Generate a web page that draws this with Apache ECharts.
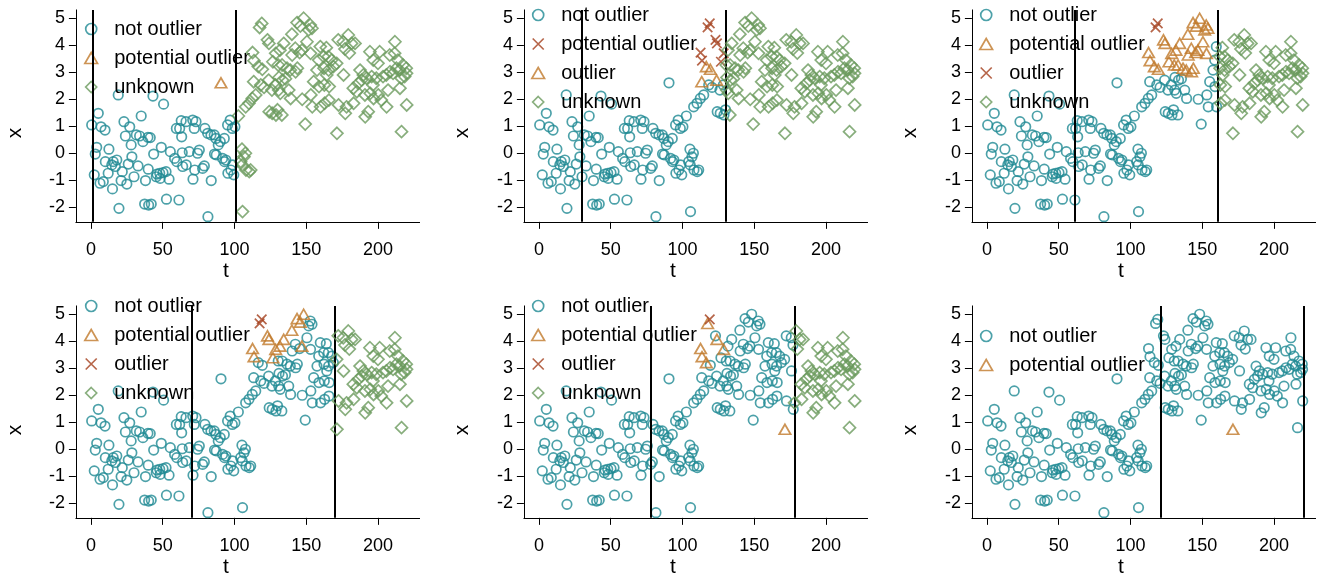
<!DOCTYPE html>
<html>
<head>
<meta charset="utf-8">
<script src="https://cdn.jsdelivr.net/npm/echarts@6/dist/echarts.min.js"></script>
<style>html,body{margin:0;padding:0;background:#fff}#c{width:1320px;height:574px}</style>
</head>
<body>
<div id="c"></div>
<script>
// ---- data ----
const tVals = [0.5,2.3,3.0,4.0,5.1,6.3,7.0,8.6,9.8,10.0,12.0,12.5,14.5,15.0,15.5,17.0,18.0,19.0,19.5,21.0,21.8,23.0,24.0,25.0,26.0,27.0,28.0,28.5,30.0,31.6,32.8,33.9,35.0,36.2,37.4,38.0,39.7,39.9,40.2,41.3,42.0,43.2,43.7,45.5,46.0,47.9,48.2,49.0,50.2,50.6,52.3,52.6,54.4,55.3,58.3,59.5,59.8,61.3,61.8,62.9,63.2,63.6,63.9,66.2,66.4,68.5,70.9,71.1,72.0,72.3,73.2,74.3,75.5,77.8,79.0,79.4,81.3,81.5,83.6,83.8,85.9,86.1,87.1,87.3,88.7,90.1,90.6,91.7,92.9,93.1,94.0,95.2,95.4,97.0,97.5,98.5,98.7,99.5,100.3,102.7,104.3,105.2,105.4,105.6,106.6,107.6,107.8,108.0,110.1,110.3,111.3,112.4,112.6,113.4,113.6,114.8,116.6,117.5,118.3,119.0,119.4,120.6,123.0,123.8,124.0,124.2,126.1,126.3,126.8,128.5,128.7,128.9,130.0,130.5,130.8,131.0,131.7,131.9,133.0,133.2,133.5,134.3,135.5,136.6,137.8,138.9,139.1,140.0,140.2,142.4,142.6,143.6,143.8,145.4,145.9,147.0,147.2,148.2,149.3,150.5,151.7,152.8,153.0,153.2,154.0,154.2,155.2,157.5,158.7,158.9,159.8,160.0,162.2,162.4,162.6,162.8,164.0,164.3,165.4,165.6,165.8,166.0,167.7,168.9,171.2,171.4,172.3,172.5,175.8,176.0,177.0,177.2,178.1,179.3,180.0,181.6,182.8,183.0,184.0,185.2,186.3,187.5,188.6,189.8,190.9,191.1,192.1,193.2,194.4,194.6,195.6,196.5,196.7,196.9,198.8,200.0,200.2,201.2,202.3,203.5,205.8,206.0,207.0,208.2,208.4,210.5,211.6,211.8,212.8,213.9,215.1,215.3,216.2,216.4,217.4,218.6,219.7,219.9,220.0];
const xVals = [1.04,-0.81,-0.04,0.21,1.47,-1.12,0.97,-1.06,0.85,-0.32,-0.75,0.14,-0.44,-1.33,-0.32,-0.5,-0.26,2.15,-2.05,-1.02,-0.69,1.16,0.63,-1.15,-0.41,0.97,0.3,-0.14,-0.88,0.67,-0.48,0.63,1.37,0.42,-1.89,-1.02,0.58,-0.6,-1.93,0.57,-1.89,2.11,-0.04,-0.88,-0.78,-0.75,-0.94,0.21,-0.73,1.81,-0.69,-1.71,-0.97,0.05,-0.2,0.91,-0.32,-1.74,0.91,1.2,0.6,0.01,-0.5,1.16,-0.44,0.05,1.22,-0.97,0.91,-0.63,1.16,-0.01,0.11,-0.57,-0.48,0.91,0.73,-2.36,0.67,-1.02,0.67,-0.04,0.54,-0.07,0.3,0.42,2.6,-0.2,0.54,-0.32,-0.26,1.04,-0.75,1.22,-0.63,0.91,-0.44,-0.81,0.97,1.37,-0.32,0.14,-0.44,-2.17,-0.14,-0.01,1.71,-0.63,1.84,-0.69,-0.63,2.02,3.72,2.64,3.42,2.15,3.2,4.65,2.52,4.8,3.1,2.43,4.19,2.7,4.06,1.53,2.33,1.47,3.38,2.52,3.69,1.41,1.6,3.26,2.33,2.8,3.81,2.21,1.41,3.26,2.7,4.06,2.75,3.14,2.33,3.07,2.02,4.4,3.63,3.88,3.01,4.83,3.14,3.72,4.7,3.81,1.99,4.99,1.07,4.12,4.56,4.74,3.69,2.15,4.62,1.71,2.64,3.07,3.44,2.46,3.94,1.71,3.57,3.14,2.52,1.84,3.9,2.89,3.57,3.07,1.96,2.46,3.44,3.2,3.32,0.73,4.19,1.78,4.12,2.89,3.85,1.47,1.71,4.37,3.7,4.06,2.4,1.84,4.06,2.27,2.58,3.07,2.7,2.89,2.15,1.34,2.77,1.53,3.75,2.21,2.83,2.52,3.44,2.02,2.77,3.32,2.15,3.75,1.96,2.83,2.89,1.71,2.33,3.63,3.01,2.95,3.69,4.12,3.14,3.44,3.07,2.4,2.77,0.79,3.26,2.83,3.14,2.95,1.78];

const windowStart = [1, 30, 61, 70, 78, 121];
const windowEnd   = [101, 130, 161, 170, 178, 221];
const potentialT = [
  [90.6],
  [112.6,113.6,117.5,119.0,123.0,124.0,126.8,128.7],
  [112.6,113.6,116.6,119.4,123.0,124.0,126.8,128.7,130.5,131.7,133.2,134.3,136.6,138.9,140.0,140.2,142.4,142.6,143.6,143.8,145.4,145.9,147.0,148.2,150.5,151.7,152.8,153.0,154.0],
  [112.6,113.6,123.0,124.0,126.8,128.7,131.7,134.3,140.0,143.6,145.9,147.0,148.2],
  [112.6,113.6,116.6,117.5,124.0,128.7,171.4],
  [171.4]
];
const outlierT = [
  [],
  [113.4,116.6,119.4,123.8],
  [117.5,119.0],
  [117.5,119.0],
  [119.0],
  []
];
const legendLabels = [
  ['not outlier','potential outlier','unknown'],
  ['not outlier','potential outlier','outlier','unknown'],
  ['not outlier','potential outlier','outlier','unknown'],
  ['not outlier','potential outlier','outlier','unknown'],
  ['not outlier','potential outlier','outlier','unknown'],
  ['not outlier','potential outlier']
];
const xTicks = [0, 50, 100, 150, 200];
const yTicks = [-2, -1, 0, 1, 2, 3, 4, 5];

// ---- styles / layout ----
const FONT = 'Liberation Sans, Arial, Helvetica, sans-serif';
const STY = {
  circle:  {symbol: 'circle', size: 9.5, color: '#1f8994'},
  tri:     {symbol: 'path://M5,0L10,8.66L0,8.66Z', size: [11.5, 10], color: '#c0792a'},
  cross:   {symbol: 'path://M0,0L10,10M10,0L0,10', size: 9.5, color: '#a43f1c'},
  diamond: {symbol: 'path://M5,0L10,5L5,10L0,5Z', size: 12, color: '#6a9a5c'}
};
function styleFor(p, label) {
  if (label === 'not outlier') return STY.circle;
  if (label === 'unknown') return STY.diamond;
  if (label === 'potential outlier') return p === 1 ? STY.cross : STY.tri;
  return p === 1 ? STY.tri : STY.cross;
}
const colLeft = [75.9, 523.9, 971.9];
const rowTop = [9.9, 305.9];
const gW = 343.7, gH = 211.95;
const legendTop = [14.5, 0.5, 0.5, 291.5, 291.5, 321.5];
const legendLeft = [84, 531, 979];
const xTitle = [226, 673, 1121];
const yTitleX = [15, 462, 910];
const tTitleY = [271, 567];
const xTitleY = [133, 430];

function classify(p, i) {
  const t = tVals[i];
  if (outlierT[p].indexOf(t) >= 0) return 'outlier';
  if (potentialT[p].indexOf(t) >= 0) return 'potential outlier';
  if (t > windowEnd[p]) return 'unknown';
  return 'not outlier';
}

const grids = [], xAxes = [], yAxes = [], series = [], legends = [], graphics = [];
for (let p = 0; p < 6; p++) {
  const r = Math.floor(p / 3), c = p % 3;
  grids.push({left: colLeft[c], top: rowTop[r], width: gW, height: gH});
  xAxes.push({
    type: 'value', gridIndex: p, min: -10.5, max: 229,
    axisLine: {show: true, onZero: false, lineStyle: {color: '#000', width: 1}},
    axisTick: {show: true, length: 7, lineStyle: {color: '#000', width: 1}, customValues: xTicks},
    axisLabel: {show: true, customValues: xTicks, fontSize: 18, color: '#000', fontFamily: FONT, margin: 19},
    splitLine: {show: false}
  });
  yAxes.push({
    type: 'value', gridIndex: p, min: -2.55, max: 5.3,
    axisLine: {show: true, onZero: false, lineStyle: {color: '#000', width: 1}},
    axisTick: {show: true, length: 7, lineStyle: {color: '#000', width: 1}, customValues: yTicks},
    axisLabel: {show: true, customValues: yTicks, fontSize: 18, color: '#000', fontFamily: FONT, margin: 11},
    splitLine: {show: false}
  });
  const labels = legendLabels[p];
  const legendData = [];
  labels.forEach((lab, k) => {
    const st = styleFor(p, lab);
    const data = [];
    for (let i = 0; i < tVals.length; i++) {
      if (classify(p, i) === lab) data.push([tVals[i], xVals[i]]);
    }
    const name = 'P' + p + '|' + lab;
    const s = {
      name: name, type: 'scatter', xAxisIndex: p, yAxisIndex: p,
      symbol: st.symbol, symbolSize: st.size, data: data, silent: true,
      itemStyle: {color: 'rgba(0,0,0,0)', borderColor: st.color, borderWidth: 1.7},
      emphasis: {disabled: true}, z: 2 + k
    };
    if (k === 0) {
      s.markLine = {
        silent: true, symbol: ['none', 'none'], label: {show: false},
        lineStyle: {color: '#000', width: 2, type: 'solid'},
        emphasis: {disabled: true},
        data: [{xAxis: windowStart[p]}, {xAxis: windowEnd[p]}]
      };
    }
    series.push(s);
    legendData.push({
      name: name, icon: st.symbol,
      itemStyle: {color: 'rgba(0,0,0,0)', borderColor: st.color, borderWidth: 1.7}
    });
  });
  legends.push({
    show: true, orient: 'vertical', left: legendLeft[c], top: legendTop[p],
    itemWidth: 36, itemHeight: 11, itemGap: 0, padding: 0, selectedMode: false,
    textStyle: {fontSize: 20, lineHeight: 29, color: '#000', fontFamily: FONT},
    formatter: n => n.split('|')[1],
    data: legendData
  });
  graphics.push({type: 'text', x: xTitle[c], y: tTitleY[r],
    style: {text: 't', fill: '#000', font: '21px ' + FONT, textAlign: 'center', textVerticalAlign: 'middle'}});
  graphics.push({type: 'text', x: yTitleX[c], y: xTitleY[r], rotation: Math.PI / 2,
    style: {text: 'x', fill: '#000', font: '21px ' + FONT, textAlign: 'center', textVerticalAlign: 'middle'}});
}

const chart = echarts.init(document.getElementById('c'), null, {renderer: 'canvas'});
chart.setOption({
  animation: false,
  backgroundColor: '#fff',
  grid: grids, xAxis: xAxes, yAxis: yAxes,
  legend: legends, series: series, graphic: graphics
});
</script>
</body>
</html>
